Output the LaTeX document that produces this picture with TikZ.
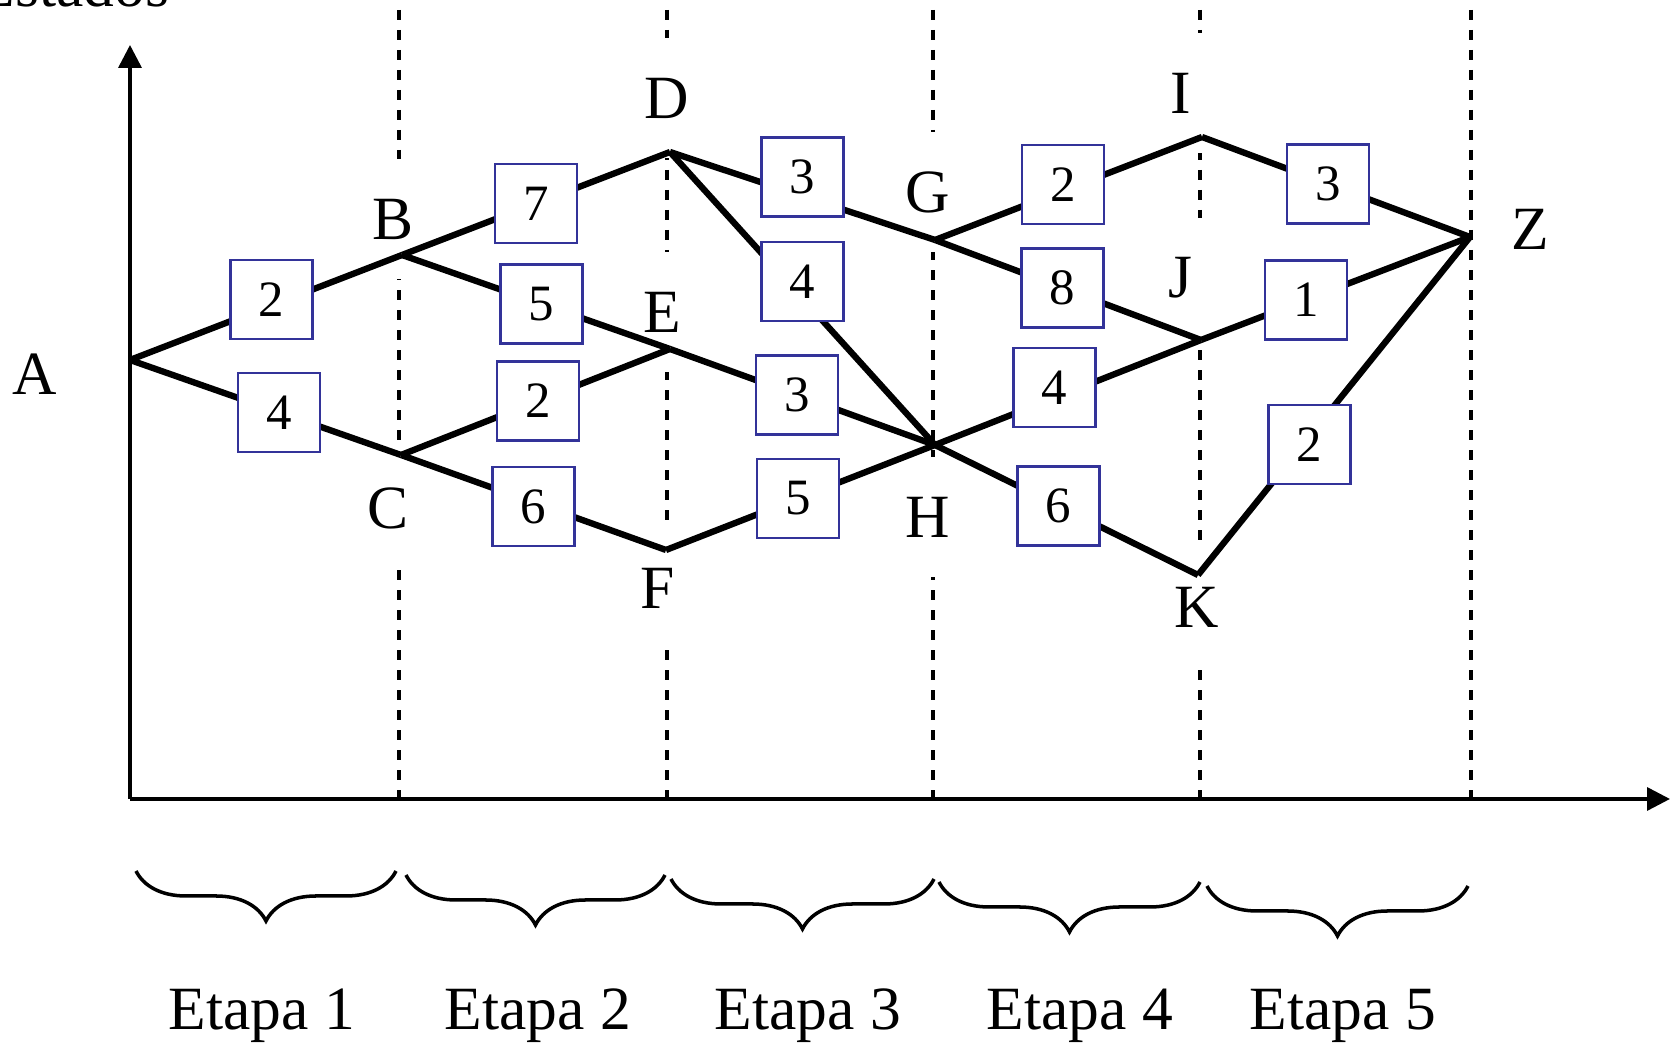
\documentclass[tikz,border=0pt]{standalone}
\usepackage{fontspec}
\setmainfont{Liberation Serif}
\usetikzlibrary{arrows.meta,decorations.pathreplacing}
\definecolor{PesoBlue}{RGB}{51,51,153}

\begin{document}
\begin{tikzpicture}[every node/.style={font=\fontsize{17.5}{21}\selectfont},
    estado/.style={fill=white,inner sep=0pt,minimum width=0.55cm,minimum height=1.2cm},
    peso/.style={draw=PesoBlue,line width=0.7pt,fill=white,minimum width=0.82cm,minimum height=0.79cm,inner sep=0pt,font=\fontsize{14.5}{17}\selectfont},
    arco/.style={line width=1.8pt},
    limite/.style={line width=0.9pt,dash pattern=on 0.1cm off 0.1cm},
    eje/.style={line width=1pt,-{Triangle[length=0.23cm,width=0.23cm]}},
    llave/.style={decorate,decoration={brace,mirror,amplitude=0.5cm},line width=1pt}]
    \useasboundingbox (0,0) rectangle (16.70,10.45);
    % limites de etapa
    \draw[limite] (3.99,10.35) -- (3.99,2.46);
    \draw[limite] (6.67,10.35) -- (6.67,2.46);
    \draw[limite] (9.33,10.35) -- (9.33,2.46);
    \draw[limite] (12.00,10.35) -- (12.00,2.46);
    \draw[limite] (14.71,10.35) -- (14.71,2.46);
    % estados
    \coordinate (A) at (1.30,6.85);
    \coordinate (B) at (4.02,7.90);
    \coordinate (C) at (4.01,5.90);
    \coordinate (D) at (6.70,8.93);
    \coordinate (E) at (6.70,6.96);
    \coordinate (F) at (6.66,4.95);
    \coordinate (G) at (9.35,8.05);
    \coordinate (H) at (9.35,6.00);
    \coordinate (I) at (12.02,9.08);
    \coordinate (J) at (12.01,7.05);
    \coordinate (K) at (11.98,4.70);
    \coordinate (Z) at (14.70,8.08);
    \node[estado] (lA) at (0.35,6.71) {A};
    \node[estado] (lB) at (3.93,8.26) {B};
    \node[estado] (lC) at (3.88,5.37) {C};
    \node[estado] (lD) at (6.67,9.47) {D};
    \node[estado] (lE) at (6.62,7.33) {E};
    \node[estado] (lF) at (6.58,4.57) {F};
    \node[estado] (lG) at (9.28,8.53) {G};
    \node[estado] (lH) at (9.28,5.28) {H};
    \node[estado] (lI) at (11.81,9.52) {I};
    \node[estado] (lJ) at (11.80,7.67) {J};
    \node[estado] (lK) at (11.97,4.38) {K};
    \node[estado] (lZ) at (15.30,8.16) {Z};
    % arcos
    \draw[arco] (A) -- node[peso,pos=0.52,yshift=0.06cm]{2} (B);
    \draw[arco] (A) -- node[peso,pos=0.55]{4} (C);
    \draw[arco] (B) -- node[peso]{7} (D);
    \draw[arco] (B) -- node[peso,pos=0.52]{5} (E);
    \draw[arco] (C) -- node[peso,pos=0.51]{2} (E);
    \draw[arco] (C) -- node[peso,yshift=-0.04cm]{6} (F);
    \draw[arco] (D) -- node[peso,yshift=0.19cm]{3} (G);
    \draw[arco] (D) -- node[peso,yshift=0.17cm]{4} (H);
    \draw[arco] (E) -- node[peso,pos=0.48]{3} (H);
    \draw[arco] (F) -- node[peso,pos=0.49]{5} (H);
    \draw[arco] (G) -- node[peso,pos=0.48,yshift=0.06cm]{2} (I);
    \draw[arco] (G) -- node[peso,pos=0.48]{8} (J);
    \draw[arco] (H) -- node[peso,pos=0.45,yshift=0.1cm]{4} (J);
    \draw[arco] (H) -- node[peso,pos=0.47]{6} (K);
    \draw[arco] (I) -- node[peso,pos=0.47]{3} (Z);
    \draw[arco] (J) -- node[peso,pos=0.39]{1} (Z);
    \draw[arco] (K) -- node[peso,pos=0.41,yshift=-0.08cm]{2} (Z);
    % ejes
    \coordinate (O) at (1.30,2.46);
    \draw[eje] (O) -- (1.30,10.00);
    \draw[eje] (O) -- (16.70,2.46);
    \node[anchor=base east,inner sep=0pt] (estados) at (1.70,10.38) {Estados};
    % etapas
    \draw[llave] (1.36,1.74) -- (3.96,1.74);
    \draw[llave] (4.06,1.70) -- (6.65,1.70);
    \draw[llave] (6.71,1.66) -- (9.34,1.66);
    \draw[llave] (9.39,1.63) -- (12.00,1.63);
    \draw[llave] (12.07,1.59) -- (14.68,1.59);
    \node[anchor=base] (et1) at (2.62,0.15) {Etapa 1};
    \node[anchor=base] (et2) at (5.38,0.15) {Etapa 2};
    \node[anchor=base] (et3) at (8.08,0.15) {Etapa 3};
    \node[anchor=base] (et4) at (10.80,0.15) {Etapa 4};
    \node[anchor=base] (et5) at (13.43,0.15) {Etapa 5};
\end{tikzpicture}
\end{document}
